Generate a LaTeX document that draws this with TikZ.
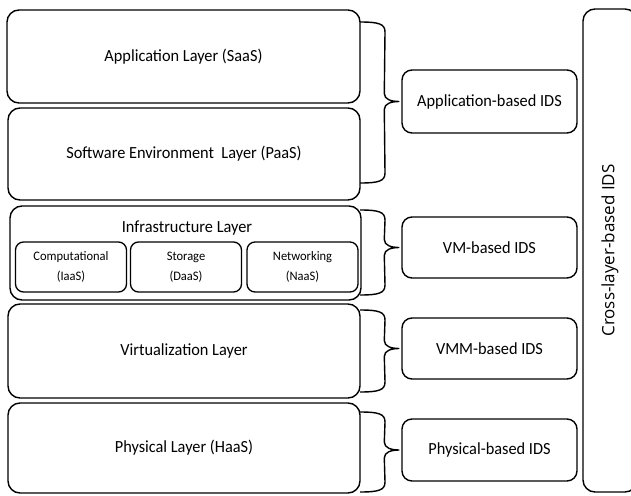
\documentclass[tikz,border=0pt]{standalone}
\usepackage{fontspec}
\setmainfont[FakeStretch=0.96]{Carlito}
\newfontfamily\crossfont{Open Sans}
\usetikzlibrary{calc}
\tikzset{
  layer/.style={draw, line width=1.4pt, rounded corners=12pt, inner sep=0pt, font=\fontsize{17}{20}\selectfont},
  subbox/.style={draw, line width=1.3pt, rounded corners=8pt, inner sep=0pt, minimum width=111pt, minimum height=50pt, align=center, font=\fontsize{13}{20}\selectfont},
  idsbox/.style={draw, line width=1.4pt, rounded corners=10pt, inner sep=0pt, minimum width=175pt, font=\fontsize{17}{20}\selectfont},
  brace/.style={draw, line width=1.4pt},
  lbl/.style={inner sep=0pt, font=\fontsize{17}{20}\selectfont}
}
\newcommand\mybrace[3]{%
  \draw[brace] (360,#1) .. controls (379,#1) and (385,{#1+2}) .. (385,{#1+10})
    -- ($(#3.west)+(-17,-8)$)
    .. controls ($(#3.west)+(-17,-2)$) and ($(#3.west)+(-10,0)$) .. ($(#3.west)+(-2,0)$)
    .. controls ($(#3.west)+(-10,0)$) and ($(#3.west)+(-17,2)$) .. ($(#3.west)+(-17,8)$)
    -- (385,{#2-10}) .. controls (385,{#2-2}) and (379,#2) .. (360,#2);}
\begin{document}
\begin{tikzpicture}[x=1pt,y=-1pt]
\useasboundingbox (0,0) rectangle (631,495);
\clip (0,0) rectangle (631,495);
% layers
\node[layer, minimum width=353pt, minimum height=93pt] (app) at (183.5,56.5) {Application Layer (SaaS)};
\node[layer, minimum width=352pt, minimum height=92pt] (sw) at (184,154) {Software Environment\ \ Layer (PaaS)};
\node[layer, minimum width=351pt, minimum height=94pt] (infra) at (185.5,253) {};
\node[lbl] (infralbl) at (187,228) {Infrastructure Layer};
\node[subbox] (comp) at (71,267) {Computational\\(IaaS)};
\node[subbox] (stor) at (186,267) {Storage\\(DaaS)};
\node[subbox] (netw) at (302.5,267) {Networking\\(NaaS)};
\node[layer, minimum width=352pt, minimum height=94pt] (virt) at (184,351) {Virtualization Layer};
\node[layer, minimum width=352pt, minimum height=90pt] (phys) at (184,448) {Physical Layer (HaaS)};
% IDS boxes
\node[idsbox, minimum height=63pt] (aids) at (489.5,101.5) {Application-based IDS};
\node[idsbox, minimum height=61pt] (vmids) at (489.5,247.5) {VM-based IDS};
\node[idsbox, minimum height=61pt] (vmmids) at (489.5,348.5) {VMM-based IDS};
\node[idsbox, minimum height=62pt] (pids) at (489.5,450) {Physical-based IDS};
% cross-layer
\node[draw, line width=1.4pt, rounded corners=12pt, rotate=90, inner sep=0pt, minimum width=483pt, minimum height=54pt, font=\crossfont\fontsize{17}{20}\selectfont] (cross) at (610,250.5) {Cross-layer-based IDS};
% braces
\mybrace{22}{183}{aids}
\mybrace{210}{295}{vmids}
\mybrace{310}{392}{vmmids}
\mybrace{412}{492}{pids}
\end{tikzpicture}
\end{document}
